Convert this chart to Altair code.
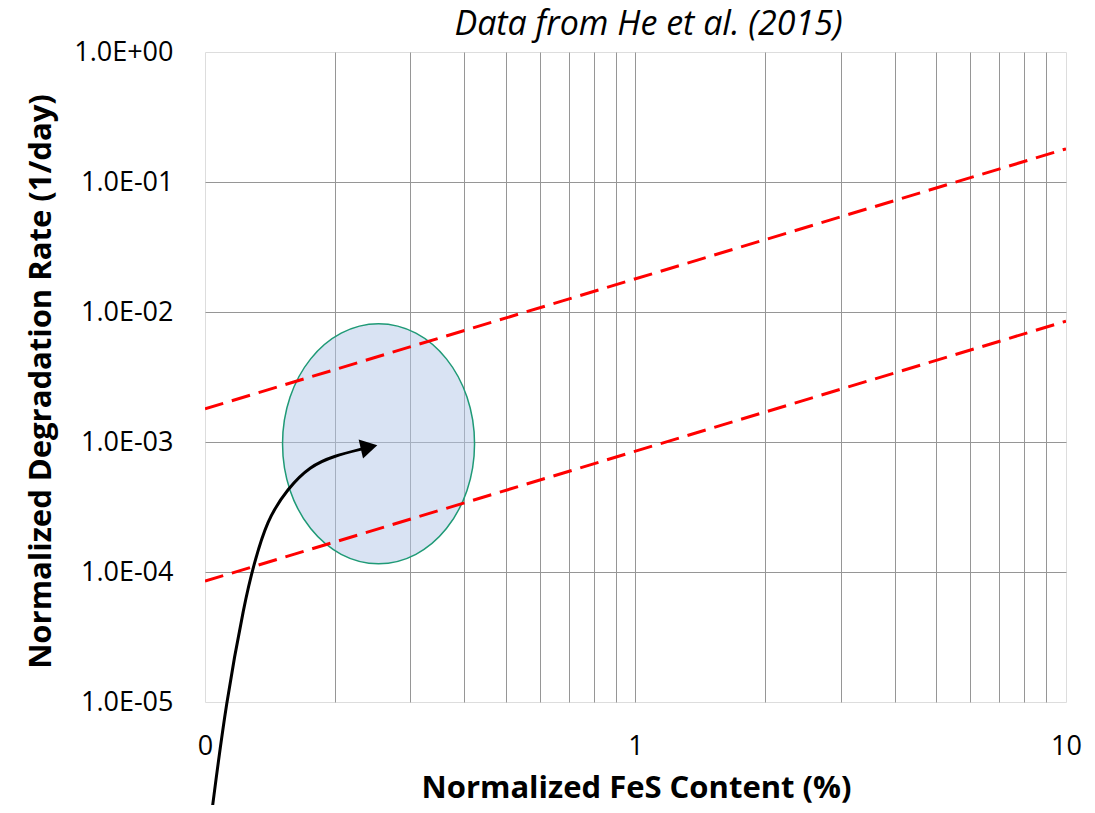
import altair as alt
import pandas as pd

# ---- axis ticks / labels ----
x_grid_values = [0.1, 0.2, 0.3, 0.4, 0.5, 0.6, 0.7, 0.8, 0.9,
                 1, 2, 3, 4, 5, 6, 7, 8, 9, 10]
x_label_values = [0.1, 1, 10]
x_label_texts = ["0", "1", "10"]
y_tick_values = [1e-5, 1e-4, 1e-3, 1e-2, 1e-1, 1]
y_tick_labels = ["1.0E-05", "1.0E-04", "1.0E-03", "1.0E-02", "1.0E-01", "1.0E+00"]

# ---- red dashed trend lines ----
line_x = [0.1, 10]
upper_y = [1.8e-3, 0.18]
lower_y = [8.5e-5, 8.5e-3]

# ---- shaded ellipse (centre) ----
ellipse_x = [0.253]
ellipse_y = [9.7e-4]

# ---- curved arrow ----
arrow_x = [0.1036, 0.1119, 0.1239, 0.1295, 0.1391, 0.1559, 0.1753, 0.1986, 0.2347]
arrow_y = [1.39e-6, 1.0e-5, 6.1e-5, 1.1e-4, 2.5e-4, 4.43e-4, 6.5e-4, 7.8e-4, 8.94e-4]
head_x = [0.2405]
head_y = [9.12e-4]


def label_expr(values, texts):
    expr = "''"
    for v, t in reversed(list(zip(values, texts))):
        expr = f"abs(datum.value / {v} - 1) < 1e-6 ? '{t}' : ({expr})"
    return expr


FONT = "Open Sans"
edge_hide_x = {"condition": {"test": "datum.value <= 0.1000001 || datum.value >= 9.99999", "value": 0}, "value": 1}
edge_hide_y = {"condition": {"test": "datum.value <= 0.0000100001 || datum.value >= 0.99999", "value": 0}, "value": 1}

X = alt.X(
    "x:Q",
    scale=alt.Scale(type="log", domain=[0.1, 10], nice=False),
    axis=alt.Axis(
        values=x_grid_values,
        labelExpr=label_expr(x_label_values, x_label_texts),
        ticks=False, tickSize=0, domain=False,
        grid=True, gridColor="#969696", gridWidth=1, gridOpacity=edge_hide_x,
        labelFont=FONT, labelFontSize=27, labelColor="black", labelPadding=31,
        labelOverlap=False, labelFlush=False,
        title="Normalized FeS Content (%)",
        titleFont=FONT, titleFontSize=31, titleFontWeight="bold", titleColor="black",
        titleX=431, titleY=95, titleAlign="center", titleBaseline="alphabetic",
    ),
)
Y = alt.Y(
    "y:Q",
    scale=alt.Scale(type="log", domain=[1e-5, 1], nice=False),
    axis=alt.Axis(
        values=y_tick_values,
        labelExpr=label_expr(y_tick_values, y_tick_labels),
        ticks=False, tickSize=0, domain=False,
        grid=True, gridColor="#969696", gridWidth=1, gridOpacity=edge_hide_y,
        labelFont=FONT, labelFontSize=27, labelColor="black", labelPadding=32,
        labelOverlap=False,
        title="Normalized Degradation Rate (1/day)",
        titleFont=FONT, titleFontSize=31, titleFontWeight="bold", titleColor="black",
        titleX=-155, titleY=329, titleAngle=270, titleAlign="center", titleBaseline="alphabetic",
    ),
)

lines_df = pd.DataFrame({
    "x": line_x + line_x,
    "y": upper_y + lower_y,
    "series": ["upper"] * len(line_x) + ["lower"] * len(line_x),
})
ellipse_df = pd.DataFrame({"x": ellipse_x, "y": ellipse_y})
arrow_df = pd.DataFrame({"x": arrow_x, "y": arrow_y, "i": list(range(len(arrow_x)))})
head_df = pd.DataFrame({"x": head_x, "y": head_y})

ELLIPSE_PATH = ("M0.8,0C0.8,0.5523,0.4418,1,0,1C-0.4418,1,-0.8,0.5523,-0.8,0"
                "C-0.8,-0.5523,-0.4418,-1,0,-1C0.4418,-1,0.8,-0.5523,0.8,0Z")

ellipse = alt.Chart(ellipse_df).mark_point(
    shape=ELLIPSE_PATH, size=57600, filled=True, fill="#b4c7e7", fillOpacity=0.5,
    stroke="#1f9a76", strokeWidth=1.5, strokeOpacity=1, opacity=1,
).encode(x=X, y=Y)

lines = alt.Chart(lines_df).mark_line(
    color="#ff0000", strokeWidth=3, strokeDash=[19, 9], clip=True,
).encode(x=X, y=Y, detail="series:N")

arrow = alt.Chart(arrow_df).mark_line(
    color="black", strokeWidth=3, interpolate="basis", clip=False,
).encode(x=X, y=Y, order="i:Q")

head = alt.Chart(head_df).mark_point(
    shape="triangle-right", size=380, filled=True, color="black", opacity=1, angle=347,
).encode(x=X, y=Y)

chart = alt.layer(ellipse, lines, arrow, head).properties(
    width=861,
    height=650,
    padding={"left": 197, "top": 44, "right": 21, "bottom": 103},
    autosize=alt.AutoSizeParams(type="none"),
    title=alt.TitleParams(
        "Data from He et al. (2015)", font=FONT, fontSize=34, fontStyle="italic",
        fontWeight="normal", color="black", anchor="middle", dx=13, offset=-4,
    ),
).configure_view(stroke="black", strokeWidth=2).configure(background="white")

chart.save("out.html", embed_options={"renderer": "svg", "actions": False})
